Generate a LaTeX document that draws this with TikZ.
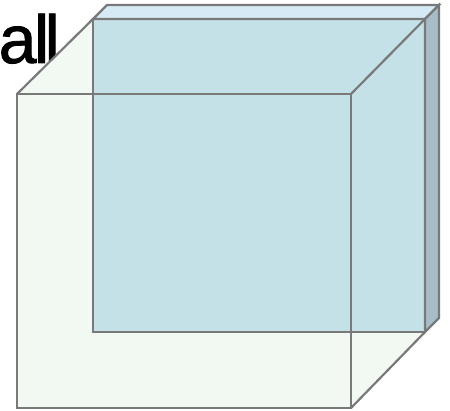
\documentclass[tikz,border=0pt]{standalone}
\usepackage{fontspec}
\newfontfamily\labelfont[FakeBold=1.2]{Liberation Sans}
\usetikzlibrary{calc}

\begin{document}
\begin{tikzpicture}[x=1pt,y=-1pt,
  edge/.style={draw=gray!95!black,line width=2.2pt,line join=miter},
  cubefill/.style={fill={rgb,255:red,242;green,248;blue,242}},
  slabfront/.style={fill={rgb,255:red,197;green,225;blue,232}},
  slabtop/.style={fill={rgb,255:red,214;green,234;blue,245}},
  slabside/.style={fill={rgb,255:red,167;green,189;blue,200}},
  walltext/.style={anchor=base west,inner sep=0pt,font=\labelfont\fontsize{68}{72}\selectfont}
]
  \useasboundingbox (0,0) rectangle (450,411);

  % cube corners, front face then back face
  \coordinate (F1) at (17,94);  \coordinate (F2) at (351,94);
  \coordinate (F3) at (351,408); \coordinate (F4) at (17,408);
  \coordinate (B1) at (93,19);  \coordinate (B2) at (425,19);
  \coordinate (B3) at (425,332);
  % slab depth
  \coordinate (d) at (14,-14);

  \node[walltext] (label) at (-1.5,63) {a\kern-2.5pt l\kern-4.5pt l};

  % cube body
  \fill[cubefill] (F1)--(B1)--(B2)--(B3)--(F3)--(F4)--cycle;

  % slab behind
  \path[slabfront,edge] (B1) rectangle (B3);
  \path[slabtop,edge] (B1)--($(B1)+(d)$)--($(B2)+(d)$)--(B2)--cycle;
  \path[slabside,edge] (B2)--($(B2)+(d)$)--($(B3)+(d)$)--(B3)--cycle;

  % cube edges
  \draw[edge] (F1) rectangle (F3);
  \draw[edge] (F1)--(B1);
  \draw[edge] (F2)--(B2);
  \draw[edge] (F3)--(B3);
\end{tikzpicture}
\end{document}
